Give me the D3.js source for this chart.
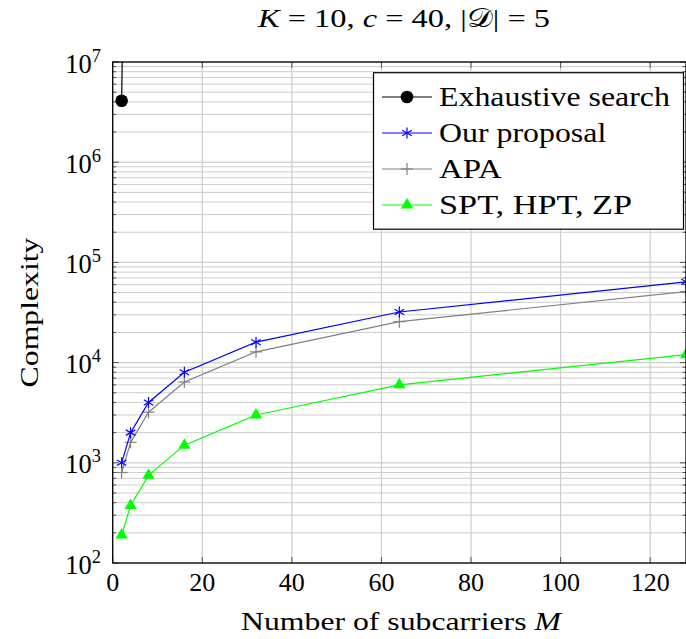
<!DOCTYPE html>
<html><head><meta charset="utf-8">
<script src="https://cdn.jsdelivr.net/npm/d3@7"></script>
<style>
html,body{margin:0;padding:0;background:#fff;}
text{font-family:"Liberation Serif","DejaVu Serif",serif;fill:#000;}
</style></head>
<body><svg id="chart" width="686" height="639"></svg>
<script>
const subcarriers = [2, 4, 8, 16, 32, 64, 128];
const exhaustiveM = [2, 4];
const exhaustive = [4.1e6, 1.6e13];
const ourProposal = [1000, 2000, 4000, 8000, 16000, 32000, 64000];
const apa = [800, 1600, 3200, 6400, 12800, 25600, 51200];
const sptHptZp = [190, 375, 750, 1500, 3000, 6000, 12000];
const xTicks = [0, 20, 40, 60, 80, 100, 120];
const yTickExps = [2, 3, 4, 5, 6, 7];
const legendLabels = ["Exhaustive search", "Our proposal", "APA", "SPT, HPT, ZP"];

const STRETCH = 1.22; // Computer Modern is wider than Times-like faces
function stretch(sel, k) {
  sel.each(function () {
    const n = this.getComputedTextLength();
    d3.select(this).attr("textLength", n * (k || STRETCH)).attr("lengthAdjust", "spacingAndGlyphs");
  });
}

const svg = d3.select("#chart");
const L = 112.7, R = 686, T = 62, B = 563;
const x = d3.scaleLinear().domain([0, 128]).range([L, R]);
const y = d3.scaleLog().domain([1e2, 1e7]).range([B, T]);

const gridColor = "#cdcdcd";
const minor = [];
for (let e = 2; e < 7; e++) for (let k = 2; k <= 9; k++) minor.push(k * Math.pow(10, e));
svg.append("g").selectAll("line").data(minor).join("line")
  .attr("x1", L).attr("x2", R).attr("y1", d => y(d)).attr("y2", d => y(d))
  .attr("stroke", gridColor).attr("stroke-width", 1);
svg.append("g").selectAll("line").data(yTickExps).join("line")
  .attr("x1", L).attr("x2", R).attr("y1", d => y(Math.pow(10, d))).attr("y2", d => y(Math.pow(10, d)))
  .attr("stroke", gridColor).attr("stroke-width", 1.2);
svg.append("g").selectAll("line").data(xTicks).join("line")
  .attr("x1", d => x(d)).attr("x2", d => x(d)).attr("y1", T).attr("y2", B)
  .attr("stroke", gridColor).attr("stroke-width", 1.2);

const tickColor = "#555";
const tk = svg.append("g").attr("stroke", tickColor).attr("stroke-width", 1);
xTicks.forEach(d => {
  tk.append("line").attr("x1", x(d)).attr("x2", x(d)).attr("y1", B).attr("y2", B - 6);
  tk.append("line").attr("x1", x(d)).attr("x2", x(d)).attr("y1", T).attr("y2", T + 6);
});
yTickExps.forEach(e => {
  const yy = y(Math.pow(10, e));
  tk.append("line").attr("x1", L).attr("x2", L + 6).attr("y1", yy).attr("y2", yy);
  tk.append("line").attr("x1", R).attr("x2", R - 6).attr("y1", yy).attr("y2", yy);
});
minor.forEach(d => {
  tk.append("line").attr("x1", L).attr("x2", L + 3.5).attr("y1", y(d)).attr("y2", y(d));
  tk.append("line").attr("x1", R).attr("x2", R - 3.5).attr("y1", y(d)).attr("y2", y(d));
});

svg.append("defs").append("clipPath").attr("id", "clip")
  .append("rect").attr("x", L).attr("y", T).attr("width", R - L).attr("height", B - T);

const line = d3.line().x(d => x(d[0])).y(d => y(d[1]));
const series = [
  {name: legendLabels[0], xs: exhaustiveM, ys: exhaustive, color: "#000", marker: "circle"},
  {name: legendLabels[1], xs: subcarriers, ys: ourProposal, color: "#0000ff", marker: "star"},
  {name: legendLabels[2], xs: subcarriers, ys: apa, color: "#808080", marker: "plus"},
  {name: legendLabels[3], xs: subcarriers, ys: sptHptZp, color: "#00ff00", marker: "triangle"}
];

function drawMarker(g, type, cx, cy, color) {
  if (type === "circle") {
    g.append("circle").attr("cx", cx).attr("cy", cy).attr("r", 6.3).attr("fill", color);
  } else if (type === "star") {
    const r = 5.5;
    for (let a = 0; a < 3; a++) {
      const ang = Math.PI / 2 + a * Math.PI / 3;
      g.append("line").attr("x1", cx + r * Math.cos(ang)).attr("y1", cy - r * Math.sin(ang))
        .attr("x2", cx - r * Math.cos(ang)).attr("y2", cy + r * Math.sin(ang))
        .attr("stroke", color).attr("stroke-width", 1.2);
    }
  } else if (type === "plus") {
    const r = 6;
    g.append("line").attr("x1", cx - r).attr("x2", cx + r).attr("y1", cy).attr("y2", cy).attr("stroke", color).attr("stroke-width", 1.2);
    g.append("line").attr("x1", cx).attr("x2", cx).attr("y1", cy - r).attr("y2", cy + r).attr("stroke", color).attr("stroke-width", 1.2);
  } else if (type === "triangle") {
    const r = 7;
    g.append("path").attr("d", `M${cx},${cy - r}L${cx + r * 0.87},${cy + r * 0.5}L${cx - r * 0.87},${cy + r * 0.5}Z`)
      .attr("fill", color);
  }
}

const order = [2, 1, 3, 0];
order.forEach(i => {
  const s = series[i];
  const pts = s.xs.map((m, j) => [m, s.ys[j]]);
  svg.append("path").attr("d", line(pts)).attr("fill", "none")
    .attr("stroke", s.color).attr("stroke-width", 1.2).attr("clip-path", "url(#clip)");
  const g = svg.append("g");
  pts.filter(p => y(p[1]) >= T - 1).forEach(p => drawMarker(g, s.marker, x(p[0]), y(p[1]), s.color));
});

svg.append("rect").attr("x", L).attr("y", T).attr("width", R - L).attr("height", B - T)
  .attr("fill", "none").attr("stroke", "#000").attr("stroke-width", 1.3);

// x tick labels
svg.append("g").selectAll("text").data(xTicks).join("text")
  .attr("x", d => x(d)).attr("y", 590.5).attr("text-anchor", "middle")
  .attr("font-size", 26).text(d => d);
// y tick labels
const yl = svg.append("g");
yTickExps.forEach(e => {
  const t = yl.append("text").attr("x", 101).attr("y", y(Math.pow(10, e)) + 10.5)
    .attr("text-anchor", "end").attr("font-size", 26.5);
  t.append("tspan").text("10");
  t.append("tspan").attr("font-size", 18.5).attr("dy", -11).text(e);
});

// axis labels
svg.append("text").attr("x", 401).attr("y", 630).attr("text-anchor", "middle")
  .attr("font-size", 26)
  .call(t => { t.append("tspan").text("Number of subcarriers "); t.append("tspan").attr("font-style", "italic").text("M"); })
  .call(stretch);
svg.append("text").attr("transform", `translate(38,${(T + B) / 2}) rotate(-90)`)
  .attr("text-anchor", "middle").attr("font-size", 26).text("Complexity")
  .call(stretch);

// title
svg.append("text").attr("x", 258).attr("y", 27).attr("text-anchor", "start")
  .attr("font-size", 26)
  .call(t => {
    t.append("tspan").attr("font-style", "italic").text("K");
    t.append("tspan").text(" = 10, ");
    t.append("tspan").attr("font-style", "italic").text("c");
    t.append("tspan").text(" = 40, |");
    t.append("tspan").text("𝒟");
    t.append("tspan").text("| = 5");
  })
  .attr("textLength", 292).attr("lengthAdjust", "spacingAndGlyphs");

// legend
const lg = svg.append("g");
lg.append("rect").attr("x", 373.5).attr("y", 72.7).attr("width", 310).attr("height", 156.5)
  .attr("fill", "#fff").attr("stroke", "#000").attr("stroke-width", 1.2);
series.forEach((s, i) => {
  const cy = 97 + i * 36;
  lg.append("line").attr("x1", 382).attr("x2", 432).attr("y1", cy).attr("y2", cy)
    .attr("stroke", s.color).attr("stroke-width", 1.2);
  drawMarker(lg, s.marker, 407, cy, s.color);
  lg.append("text").attr("x", 439).attr("y", cy + 8.5).attr("font-size", 27).text(s.name)
    .call(stretch, i === 3 ? 1.27 : (i === 2 ? 1.22 : 1.18));
});
</script>
</body></html>
